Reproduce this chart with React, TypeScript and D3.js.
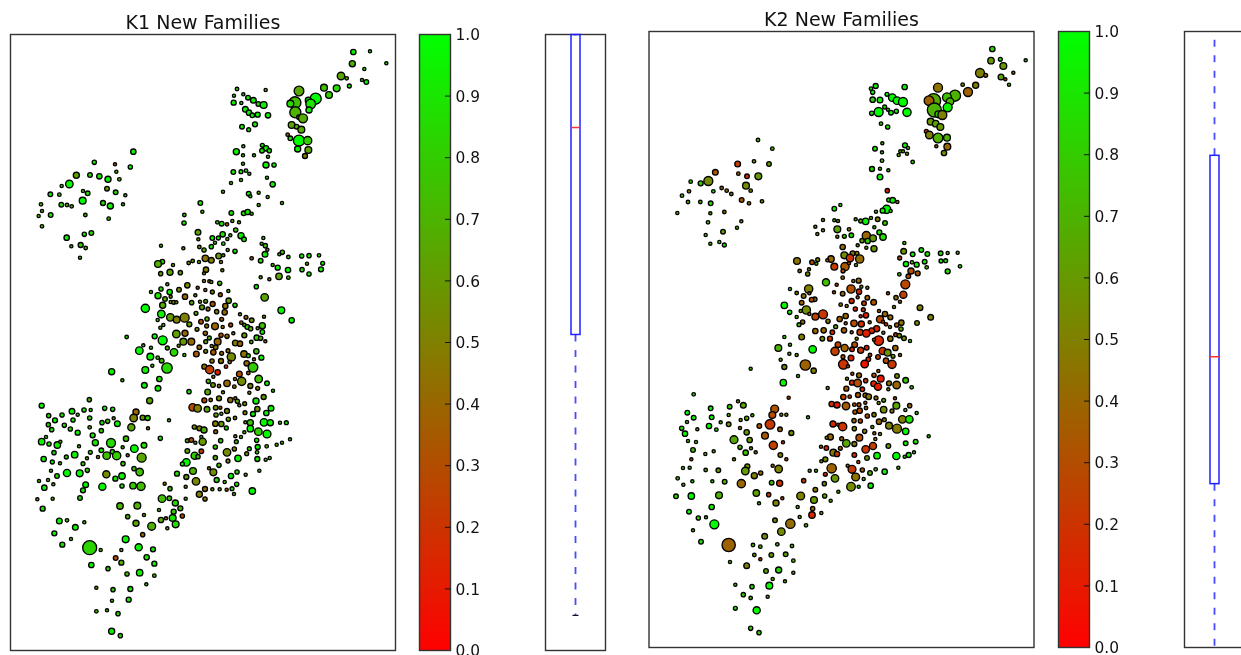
import React from "react";
import * as d3 from "d3";

type P = [number, number, number, number];

const colorTicks = [0, 0.1, 0.2, 0.3, 0.4, 0.5, 0.6, 0.7, 0.8, 0.9, 1.0];
const k1Box = { low: 0.057, q1: 0.513, median: 0.849, q3: 1.0, high: 1.0 };
const k2Box = { low: 0.0, q1: 0.266, median: 0.472, q3: 0.799, high: 1.0 };

// [map x, map y, marker size, share of new families]
const k1North: P[] = [
[1060,66,14,.95],[1110,64,8,.9],[1159,100,8,.85],[1057,101,16,.7],[1093,117,8,.8],[1023,138,20,.65],[1040,145,9,.7],[1086,150,8,.7],[1099,156,12,.95],[1048,168,10,.95],[972,173,18,.75],[1010,175,18,.85],[987,195,18,.8],[897,183,26,.65],[947,206,30,1],[885,218,32,.75],[871,221,18,.85],[925,211,16,.95],[932,222,26,.9],[927,240,16,.95],[886,247,30,.7],[897,262,12,.5],[909,265,24,.68],[875,285,18,.65],[890,290,12,.7],[904,299,18,.68],[863,314,9,.35],[871,325,12,.9],[897,332,30,1],[923,332,22,.8],[893,357,16,.95],[925,360,18,.65],[915,378,13,.5],
[711,177,9,.8],[797,180,8,.7],[730,193,8,.8],[702,197,8,.8],[744,203,12,.9],[760,211,15,.9],[775,222,12,.85],[791,225,18,.95],[701,218,13,.95],[724,219,8,.8],[736,238,15,.95],[747,248,14,.95],[757,256,12,.95],[773,254,13,.95],[804,256,14,.95],[765,283,13,.9],[726,290,12,.9],[746,299,10,.9],[730,349,8,.8],[787,346,10,.9],[798,355,14,.95],[786,362,12,.9],[808,362,11,.9],[709,365,16,.95],[729,376,8,.8],[762,376,8,.8],[804,380,8,.8],[729,401,8,.75],[798,405,16,.95],[822,405,11,.95],[700,426,12,.9],[723,425,10,.9],[738,422,9,.85],[748,431,8,.7],[801,443,8,.8],[723,450,8,.75],[693,459,8,.75],[818,463,14,.95],[669,485,8,.7],[776,488,8,.7],[746,491,12,.95],[751,499,8,.8],[803,501,8,.75],[601,519,12,.9],[776,525,8,.75],[846,519,8,.75],[607,545,8,.75],[694,549,12,.9],[731,550,12,.9],[743,546,14,.9],[755,551,8,.8],[553,555,9,.75],[652,577,9,.8],[665,581,12,.9],[681,583,9,.35],[697,573,8,.7],[717,577,8,.7],[552,579,11,.9],[594,607,15,.65],[668,613,14,.9],[707,600,11,.8],[723,617,16,.95],[691,616,8,.7],[637,624,12,.9],[655,624,10,.9],[790,624,8,.75],[595,628,8,.6],[732,628,12,.95],[682,627,8,.65],
[400,365,14,.95],[283,397,11,.9],[345,403,8,.35],[391,411,11,.95],[349,425,8,.7],[229,436,16,.65],[270,435,12,.85],[298,439,14,.9],[324,448,16,.95],[358,448,9,.75],[185,468,8,.75],[208,462,20,.98],[321,476,12,.6],[249,483,8,.7],[263,490,12,.85],[347,487,12,.85],[151,493,12,.9],[178,494,9,.8],[376,496,8,.75],[123,523,9,.75],[248,512,18,.98],[184,524,12,.85],[201,525,9,.75],[215,529,9,.7],[309,519,13,.85],[331,528,16,.95],[369,523,8,.75],[126,543,8,.7],[152,555,12,.9],[116,558,8,.7],[256,555,9,.75],[326,566,9,.75],[126,589,9,.75],[253,613,11,.9],[274,609,12,.85],[200,623,14,.95],
];
const k1Central: P[] = [
[214,49,8,.75],[242,45,13,.8],[257,54,9,.75],[240,83,8,.7],[483,47,8,.7],[550,55,8,.6],[598,51,9,.6],[634,50,11,.9],[612,60,11,.7],[645,38,8,.8],[683,60,8,.6],[670,41,9,.9],[785,41,8,.7],[796,47,11,.8],[802,59,8,.6],[705,64,11,.9],[795,73,15,.95],[847,67,11,.75],[838,73,8,.7],[865,81,9,.75],[905,78,11,.9],[927,77,11,.9],[957,76,9,.75],[968,100,10,.95],[921,101,8,.7],[906,119,11,.9],[963,118,13,.95],[927,132,11,.9],[864,120,14,.95],[833,113,13,.95],[818,105,8,.65],[837,139,17,.65],[865,143,9,.75],[782,142,8,.7],[808,148,8,.5],[782,92,12,.9],[755,85,9,.35],[616,85,17,.45],[634,91,15,.5],[656,78,15,.6],[670,76,8,.6],[663,96,8,.5],[597,96,8,.7],[578,93,9,.6],[566,99,9,.6],[487,95,12,.85],[474,102,18,.7],[519,105,8,.6],[618,119,14,.5],[612,130,8,.5],[667,121,8,.5],[510,127,16,.65],[541,128,11,.65],[482,131,11,.6],[612,153,8,.5],[628,154,8,.45],[634,156,8,.55],[659,160,11,.75],[502,163,8,.7],[562,166,14,.55],[593,173,8,.3],[616,180,8,.4],[483,177,11,.85],[453,186,8,.75],[537,179,12,.55],[509,186,14,.95],[637,186,10,.5],[685,183,8,.7],[474,197,16,.9],[555,200,14,.4],[586,196,8,.55],[661,194,10,.35],[769,170,11,.95],[794,202,20,.65],[495,207,12,.7],[512,200,8,.5],[512,216,8,.6],[521,217,10,.5],[529,217,8,.5],[575,218,11,.65],[600,215,8,.6],[617,214,10,.6],[638,222,13,.3],[686,212,14,.65],[705,226,11,.85],[676,228,14,.45],[488,226,16,.7],[436,235,22,1],[606,232,13,.65],[624,237,10,.4],[588,250,10,.65],[650,245,11,.5],[674,247,14,.4],[720,253,8,.6],[844,241,18,.98],[484,252,20,.95],[511,262,20,.6],[530,269,18,.5],[554,263,24,.5],[473,270,8,.8],[738,262,10,.4],[755,271,12,.55],[792,260,8,.6],[621,267,11,.7],[665,268,10,.35],[603,275,12,.3],[724,278,9,.4],[875,271,14,.95],[568,283,13,.6],[692,285,10,.25],[620,288,10,.45],[645,289,18,.4],[668,291,8,.45],[490,285,8,.75],[481,293,8,.7],[733,285,9,.65],[742,291,12,.85],[787,287,16,.75],[752,296,11,.7],[773,295,8,.6],[591,298,10,.5],[787,306,12,.95],[616,310,11,.4],[555,310,16,.4],[529,312,20,.62],[380,321,9,.8],[464,319,13,.98],[700,310,8,.55],[663,316,11,.3],[681,319,11,.4],[733,316,13,.6],[628,324,10,.75],[770,323,14,.8],[782,325,11,.7],[796,334,8,.45],[488,331,24,1],[550,335,18,.6],[574,335,18,.42],[617,335,10,.65],[653,335,18,.4],[706,339,15,.5],[720,341,14,.38],[754,336,9,.75],[536,347,8,.6],[430,346,8,.75],[635,348,8,.6],[647,352,12,.45],[598,352,12,.4],[453,353,8,.75],[418,362,20,.98],[502,354,10,.75],[522,367,20,.85],[617,364,10,.55],[640,367,14,.35],[684,362,10,.4],[665,370,10,.4],[769,364,14,.75],[553,375,8,.75],[589,372,15,.35],[732,372,17,.45],[745,377,10,.8],[694,381,22,.55],[451,380,18,.95],[473,383,9,.8],[485,392,12,.75],[784,383,13,.95],[762,388,8,.4],[636,393,11,.45],[663,393,13,.45],[689,396,9,.4],[501,414,28,.85],[457,407,8,.75],[613,410,13,.4],[629,419,22,.25],[740,400,14,.4],[759,412,26,.8],[678,410,9,.15],[653,427,14,.12],[745,429,9,.4],[436,420,18,.95],[335,425,16,.95],[367,451,8,.75],[478,447,14,.9],[718,432,15,.3],[640,440,8,.5],[705,447,8,.45],[776,447,20,.75],[725,454,22,.55],[625,454,11,.75],[681,460,17,.4],[801,460,12,.95],[433,466,15,.95],[639,465,12,.6],[657,468,9,.4],[703,470,9,.45],[751,468,13,.5],[474,475,15,.95],[773,475,10,.5],
];
const k1South: P[] = [
[567,5,11,.95],[623,6,15,.65],[669,7,8,.5],[748,8,8,.55],[819,2,8,.8],[449,32,16,.65],[268,29,11,.7],[791,21,13,.6],[657,25,13,.55],[613,31,13,.25],[632,30,9,.45],[691,30,14,.4],[706,25,8,.5],[712,34,11,.65],[768,33,16,.95],[578,52,20,.3],[593,55,20,.5],[621,58,15,.65],[647,53,12,.6],[661,53,8,.25],[681,63,13,.55],[734,41,10,.55],[718,46,8,.5],[813,55,15,.98],[772,57,14,.55],[125,47,13,.95],[216,64,15,.95],[252,60,11,.9],[272,60,8,.75],[314,55,11,.95],[338,58,11,.9],[146,77,11,.85],[186,75,11,.85],[233,74,8,.8],[165,91,13,.95],[219,90,11,.9],[269,84,11,.85],[408,66,16,.4],[401,84,20,.5],[428,83,13,.6],[443,84,13,.85],[341,85,8,.5],[323,94,11,.75],[306,98,11,.9],[352,101,15,.95],[145,104,11,.8],[193,106,11,.8],[155,119,11,.9],[211,117,11,.8],[269,112,9,.7],[304,122,11,.85],[233,128,13,.95],[278,136,13,.9],[394,112,19,.65],[444,115,8,.4],[507,91,8,.75],[664,71,8,.65],[648,75,11,.65],[735,68,10,.5],[759,72,13,.95],[799,69,14,.95],[705,84,9,.5],[685,88,11,.65],[646,101,14,.5],[664,102,14,.6],[736,97,8,.7],[751,98,16,.8],[792,97,20,.98],[811,98,16,.95],[840,98,8,.75],[859,98,10,.9],[583,111,11,.55],[598,115,13,.5],[612,120,16,.7],[679,114,10,.9],[647,125,10,.4],[751,116,17,.98],[775,125,20,.8],[801,132,21,.98],[733,127,8,.7],[706,139,8,.5],[723,141,8,.7],[138,141,8,.75],[378,146,14,.75],[481,145,11,.9],[125,155,17,.95],[147,162,11,.9],[172,165,17,.95],[181,155,8,.6],[333,159,24,.85],[286,158,16,.9],[237,169,8,.75],[432,166,15,.9],[403,176,20,.98],[368,172,8,.7],[304,181,12,.9],[162,188,11,.85],[337,185,11,.85],[271,187,10,.8],[224,194,17,.95],[320,197,20,.75],[350,197,22,.8],[425,203,24,.65],[294,201,8,.5],[383,196,8,.35],[199,201,10,.8],[261,205,8,.6],[131,207,14,.9],[157,216,10,.95],[180,220,8,.7],[249,221,10,.85],[369,221,11,.8],
[562,152,10,.6],[574,150,12,.3],[586,158,8,.65],[604,141,8,.75],[608,155,19,.6],[662,152,11,.8],[709,155,10,.75],[770,151,11,.9],[800,169,9,.7],[830,164,8,.75],[846,158,8,.7],[870,148,8,.7],[646,171,11,.8],[703,177,11,.5],[773,171,13,.95],[562,183,12,.65],[604,184,12,.2],[681,187,20,.55],[748,176,10,.85],[771,187,9,.8],[740,191,10,.6],[584,197,19,.8],[594,200,11,.7],[646,203,11,.7],[714,205,17,.95],[772,207,13,.9],[797,209,8,.75],[809,204,8,.7],[559,217,20,.98],[547,222,10,.95],[684,213,10,.5],[657,226,11,.75],
[153,242,8,.7],[262,241,11,.8],[201,249,19,.98],[239,250,18,.98],[402,236,11,.75],[419,246,20,.75],[171,258,12,.85],[319,253,19,.55],[366,258,17,.95],[346,266,13,.9],[627,235,8,.45],[640,247,18,.55],[579,243,18,.7],[531,251,13,.85],[711,246,11,.85],[693,258,14,.95],[778,242,8,.75],[737,254,8,.7],[559,261,13,.6],[650,270,13,.9],[674,276,8,.7],[117,273,8,.7],[144,270,8,.7],[160,283,8,.75],[133,293,14,.95],[257,284,15,.95],[307,290,19,.98],[366,288,11,.85],[399,287,17,.8],[423,289,22,.75],[588,274,20,.52],[494,281,8,.5],[710,283,11,.85],[557,290,8,.6],[249,301,13,.9],[510,296,11,.75],[615,297,13,.45],[637,298,8,.65],[659,298,8,.7],[680,299,8,.4],[696,296,10,.85],[757,303,17,.98],[702,312,8,.6],[598,313,16,.5],[615,327,11,.45],[240,324,12,.85],[112,328,8,.7],[158,326,8,.7],[486,326,20,.75],[508,325,12,.8],[557,326,8,.7],[526,339,16,.85],[360,348,17,.7],[412,347,18,.7],[128,356,13,.85],[541,355,13,.7],[477,360,8,.7],[521,365,13,.8],[432,375,8,.65],[383,380,11,.75],[547,378,11,.3],[518,384,18,.9],[498,385,8,.4],[483,390,14,.65],[178,393,15,.95],[201,391,9,.75],[253,397,8,.75],[408,400,16,.65],[455,409,21,.7],[527,403,18,.85],[226,412,15,.95],[502,415,8,.7],[163,430,13,.95],[428,434,11,.4],[213,447,8,.75],[377,448,18,.98],[187,464,13,.9],[269,473,38,.83],[416,472,19,.95],[459,478,13,.9],[302,480,8,.7],[364,480,8,.7],[347,504,12,.3],[440,502,14,.9],[364,518,13,.7],[463,521,13,.95],[274,525,14,.95],[324,536,11,.8],[381,552,11,.75],[419,548,17,.95],[463,557,9,.75],[439,583,8,.75],[289,593,8,.6],[339,599,11,.8],[391,597,13,.95],[336,632,8,.7],[386,629,13,.9],[289,664,9,.75],[321,661,8,.7],[354,671,11,.85],[335,724,16,.95],[361,737,11,.8],
];

const k2North: P[] = [
[1027,57,14,.85],[1051,88,10,.85],[1023,92,17,.6],[1127,91,8,.8],[1060,108,18,.6],[990,129,24,.5],[1007,136,10,.4],[1090,128,8,.35],[1053,141,15,.65],[1066,148,8,.15],[1077,164,8,.75],[938,164,9,.55],[977,166,16,.5],[954,186,24,.38],[864,173,24,.45],[915,197,30,.7],[851,212,38,.65],[837,212,26,.38],[891,202,24,.75],[900,215,20,.7],[853,240,38,.7],[893,232,24,.95],[865,253,18,.75],[877,255,24,.5],[842,275,18,.6],[857,281,17,.65],[871,291,18,.6],[829,304,10,.2],[838,315,20,.5],[864,324,26,.7],[891,323,18,.7],[859,349,8,.35],[892,350,18,.4],[882,369,14,.55],
[764,171,14,.95],[677,168,13,.95],[663,176,9,.85],[668,187,11,.95],[711,193,10,.95],[727,203,20,.98],[668,209,14,.85],[690,210,15,.95],[741,212,20,.98],[759,216,24,1],[704,231,10,.9],[714,239,8,.75],[665,250,11,.9],[686,246,24,1],[723,248,12,.95],[739,244,11,.9],[771,247,22,1],[693,281,9,.75],[713,291,11,.9],[697,340,8,.7],[765,346,13,.95],[774,354,8,.7],[675,356,12,.9],[696,367,8,.75],[751,364,8,.7],[759,364,8,.65],[746,375,8,.7],[771,371,8,.7],[696,392,9,.75],[788,396,9,.8],[666,417,13,.85],[690,416,8,.7],[715,421,8,.7],[690,441,15,.95],[712,482,11,.1],[716,510,10,.9],[728,511,15,.95],[742,516,8,.4],[710,538,22,1],[698,542,13,.95],[722,543,8,.75],[678,545,8,.75],[553,536,12,.95],[571,525,8,.75],[663,564,8,.7],[683,568,12,.5],[617,568,8,.7],[632,573,10,.75],[647,574,17,.95],[519,570,8,.45],[553,571,8,.75],[564,573,8,.45],[705,579,12,.8],[496,590,8,.5],[597,598,9,.45],[673,592,8,.7],[688,607,13,.9],[562,598,18,.65],[519,601,8,.6],[604,616,12,.9],[583,619,10,.8],[502,612,8,.5],[562,620,8,.45],[649,617,22,.4],[669,625,18,.6],[699,621,17,.85],
[324,330,9,.75],[367,356,9,.7],[312,394,9,.55],[263,402,15,.25],[357,402,12,.6],[196,427,15,.35],[265,431,9,.4],[291,439,12,.2],[325,439,18,.6],[122,455,9,.75],[175,453,24,.55],[152,460,13,.8],[215,474,9,.4],[288,467,18,.55],[230,482,9,.45],[117,484,9,.45],[190,484,9,.85],[302,482,9,.5],[244,492,9,.45],[96,497,9,.7],[275,510,12,.35],[114,516,9,.7],[151,516,9,.7],[182,520,12,.85],[297,520,9,.4],[336,514,9,.5],[82,549,8,.75],[181,550,8,.65],[223,546,9,.45],[174,577,9,.75],[274,574,8,.7],[261,593,8,.7],[219,605,12,.6],[167,615,8,.75],
];
const k2Central: P[] = [
[181,41,8,.7],[208,36,8,.8],[223,45,10,.9],[636,32,11,.6],[653,33,14,.8],[578,51,14,.42],[623,46,8,.55],[649,53,8,.6],[672,56,16,.6],[763,39,8,.75],[761,64,15,.6],[788,73,12,.95],[814,60,12,.9],[832,72,12,.9],[872,70,12,.9],[893,69,8,.7],[923,68,8,.7],[749,84,10,.3],[608,70,13,.45],[621,70,10,.5],[583,76,18,.55],[600,84,20,.2],[629,87,22,.42],[543,87,17,.4],[532,91,8,.4],[441,93,18,.45],[486,97,12,.3],[503,89,10,.55],[499,101,8,.7],[473,132,11,.55],[477,118,8,.55],[768,102,14,.98],[786,97,9,.75],[800,104,13,.95],[824,95,12,.9],[873,93,10,.95],[887,92,10,.95],[830,112,9,.7],[930,109,9,.85],[553,110,18,.25],[585,110,22,.35],[597,100,8,.3],[618,105,8,.6],[579,123,10,.3],[449,123,9,.4],[783,123,16,.3],[803,130,13,.35],[893,124,13,.85],[748,133,9,.75],[775,139,12,.28],[578,143,9,.4],[610,153,8,.45],[626,152,13,.4],[528,157,19,.75],[766,163,24,.28],[560,164,8,.25],[652,173,8,.45],[634,170,8,.6],[420,177,8,.75],[476,177,22,.5],[603,177,22,.3],[627,185,14,.15],[552,187,8,.35],[578,191,12,.4],[714,190,8,.3],[440,189,9,.5],[478,190,8,.3],[760,194,19,.25],[461,198,12,.45],[738,203,11,.45],[652,203,12,.4],[623,202,8,.35],[494,208,12,.45],[485,209,12,.3],[605,213,13,.18],[671,217,15,.35],[750,215,8,.4],[455,218,12,.4],[642,220,12,.25],[403,226,17,.98],[572,224,9,.45],[590,228,8,.45],[616,237,11,.15],[732,231,8,.5],[640,239,10,.2],[810,233,15,.5],[469,240,22,.55],[687,243,8,.35],[452,243,8,.6],[419,247,11,.95],[519,253,24,.22],[648,256,14,.12],[705,252,14,.4],[496,260,18,.25],[478,252,8,.3],[440,261,8,.65],[587,258,14,.4],[569,267,14,.38],[632,259,8,.2],[721,262,13,.4],[842,262,15,.5],[690,268,19,.28],[659,277,8,.4],[534,274,11,.5],[458,276,11,.4],[447,284,10,.75],[699,275,8,.3],[587,280,8,.35],[612,280,17,.3],[634,282,16,.18],[754,278,14,.45],[801,279,12,.55],[708,283,9,.15],[740,285,11,.35],[720,291,8,.5],[557,290,10,.7],[753,297,11,.65],[680,296,16,.15],[496,303,14,.4],[521,301,14,.42],[582,301,14,.35],[665,302,15,.15],[547,307,12,.15],[605,307,8,.4],[630,307,16,.2],[649,310,20,.12],[700,308,8,.55],[737,314,10,.15],[748,317,11,.6],[403,321,8,.8],[455,321,15,.5],[517,326,12,.55],[540,326,13,.2],[620,326,8,.55],[686,332,26,.15],[721,326,14,.45],[762,325,12,.55],[780,333,8,.8],[672,329,8,.3],[420,344,8,.8],[385,354,18,.7],[488,358,20,.98],[564,344,15,.25],[614,344,15,.3],[584,354,19,.38],[606,358,12,.15],[632,361,16,.2],[650,353,12,.1],[555,364,22,.25],[698,363,19,.2],[736,354,14,.4],[713,368,18,.58],[418,371,8,.7],[440,375,8,.55],[660,375,9,.25],[729,379,10,.6],[750,375,8,.35],[392,389,8,.65],[579,380,10,.3],[603,384,15,.12],[655,388,12,.15],[684,381,12,.25],[708,392,14,.3],[466,405,28,.38],[403,411,13,.55],[580,403,26,.2],[644,402,20,.08],[594,409,8,.3],[726,403,22,.22],[491,422,14,.5],[302,416,8,.75],[685,423,8,.4],[607,431,8,.35],[627,436,13,.4],[672,436,11,.3],[741,438,12,.55],[444,438,8,.75],[692,446,18,.1],[591,446,8,.5],[767,451,15,.75],[606,458,13,.15],[647,452,11,.25],[623,459,20,.3],[671,461,15,.15],[400,458,17,.98],[717,460,13,.45],[740,465,20,.4],[684,470,19,.1],[785,472,9,.85],[589,476,13,.35],[533,474,8,.65],[715,478,8,.5],[637,478,12,.15],
];
const k2South: P[] = [
[131,13,9,.85],[416,23,8,.3],[264,34,8,.6],[280,46,15,.65],[182,55,12,.95],[239,50,12,.8],[374,57,21,.32],[112,68,12,.98],[367,75,18,.3],[236,75,8,.7],[394,74,8,.55],[409,74,8,.5],[131,83,12,.95],[185,82,12,.98],[307,76,8,.7],[290,85,11,.7],[272,90,8,.55],[212,97,8,.7],[111,96,8,.7],[236,103,12,.6],[177,108,14,.98],[328,108,12,.35],[360,103,26,.22],[270,114,8,.5],[95,115,11,.85],[199,119,9,.8],[142,118,8,.7],[390,118,12,.4],[290,127,14,.6],[424,129,13,.55],[105,131,14,.98],[345,137,18,.35],[252,149,21,.65],[299,150,14,.6],[114,153,8,.7],[138,156,8,.7],[399,157,8,.2],[370,166,22,.25],[270,172,11,.7],[129,180,12,.75],[303,175,8,.55],[191,184,8,.7],[287,188,14,.75],[317,187,8,.35],[166,192,8,.7],[391,195,12,.5],[124,208,8,.3],[252,208,8,.6],[409,208,8,.3],[99,234,8,.7],[119,233,8,.7],[292,229,13,.55],[368,227,8,.45],[167,240,9,.7],[205,241,12,.6],[286,243,20,.62],[386,237,20,.5],[332,249,11,.35],[313,257,16,.5],[83,265,9,.7],[127,274,8,.8],[187,274,8,.8],[224,275,12,.7],[274,281,22,.4],[365,278,12,.75],[389,280,16,.18],[100,284,8,.7],[78,319,12,.85],[124,318,17,.98],[207,316,18,.7],[319,309,17,.65],[356,314,11,.25],[397,325,8,.3],[327,340,8,.7],[378,339,16,.5],[185,351,14,.9],[117,365,12,.98],[145,384,11,.8],[168,382,8,.7],[193,403,24,1],[129,421,8,.7],[153,455,12,.9],[236,465,36,.38],[309,465,9,.7],[331,470,9,.65],[382,463,9,.7],[426,468,9,.75],[313,495,9,.6],[364,495,12,.6],[407,493,12,.65],[331,508,8,.25],[240,516,8,.7],[430,512,9,.75],[290,527,15,.5],[348,543,12,.65],[386,540,16,.85],[430,548,8,.7],[368,567,8,.65],[405,574,8,.7],[256,584,8,.7],[306,590,11,.85],[358,587,18,.98],[280,614,11,.8],[302,624,9,.7],[353,620,8,.7],[256,655,10,.9],[320,661,19,.98],[302,715,11,.8],[327,728,11,.85],
[474,82,8,.75],[545,42,14,.2],[561,45,16,.1],[580,21,14,.25],[599,20,9,.2],[624,15,13,.35],[646,16,12,.4],[656,20,15,.5],[678,24,10,.4],[735,25,8,.3],[701,31,10,.65],[686,39,8,.55],[739,47,18,.65],[779,47,11,.4],[588,48,20,.35],[613,44,9,.3],[627,44,10,.3],[646,38,8,.3],[615,66,11,.35],[629,62,14,.3],[648,54,9,.3],[701,59,17,.55],[726,63,10,.4],[766,60,8,.7],[800,69,8,.75],[652,78,11,.3],[672,74,11,.5],[612,92,11,.4],[631,93,11,.25],[549,102,16,.15],[565,104,8,.35],[578,110,22,.2],[687,95,14,.4],[703,89,10,.5],[757,88,20,.5],[778,88,20,.9],[613,116,11,.55],[667,111,8,.6],[717,107,18,.5],[741,116,24,.48],[767,124,17,.98],[644,124,11,.5],[673,130,8,.4],[690,132,8,.6],[541,141,16,.4],[530,143,8,.5],[575,146,10,.4],[628,143,18,.3],[676,147,8,.5],[589,160,20,.65],[613,162,13,.5],[767,160,12,.95],[797,155,12,.9],[836,139,8,.8],[529,174,12,.15],[513,170,8,.4],[571,175,10,.35],[715,168,12,.6],[669,168,19,.25],[647,178,20,.2],[550,188,18,.5],[561,192,14,.2],[613,195,12,.2],[681,197,17,.98],[739,198,19,1],[776,195,13,.98],[764,200,8,.8],[792,187,8,.75],[526,208,13,.55],[514,214,8,.55],[651,204,12,.6],[625,216,8,.25],[479,242,8,.7],[498,242,8,.7],[545,235,25,.38],[593,227,8,.5],[606,238,21,.22],[637,240,11,.35],[677,238,9,.7],[745,233,8,.75],[660,249,12,.7],[704,245,14,.98],[526,253,10,.15],[555,265,20,.6],[617,261,21,.45],[641,267,8,.7],[461,272,11,.25],[523,281,11,.5],[603,290,23,.55],[626,290,8,.8],[662,287,14,.95],[496,299,12,.45],[565,305,8,.65],[452,318,21,.5],[524,318,11,.7],[492,330,18,.6],[542,332,8,.7],[443,351,8,.7],[488,356,11,.4],[486,375,17,.15],[514,369,8,.6],[449,381,8,.7],[375,391,12,.5],[421,401,25,.42],[468,406,9,.7],[394,425,20,.55],[344,439,15,.55],
];

const centralOffset = 600;
const southOffset = 1080;
const stitch = (a: P[], b: P[], c: P[]): P[] => [
  ...a,
  ...b.map((p): P => [p[0], p[1] + centralOffset, p[2], p[3]]),
  ...c.map((p): P => [p[0], p[1] + southOffset, p[2], p[3]]),
];

const colorScale = d3.scaleLinear<string>().domain([0, 1]).range(["#ff0000", "#00ff00"]).interpolate(d3.interpolateRgb);
const sizeScale = d3.scaleLinear().domain([8, 38]).range([1.6, 7]);
const FONT = "'DejaVu Sans', sans-serif";
const INK = "#333";
const H = 616;
const W = 385;

function Panel({ title, points, left, top, xDomain, yDomain, barLeft, boxLeft, boxWidth, box, gid }: any) {
  const x = d3.scaleLinear().domain(xDomain).range([left, left + W]);
  const y = d3.scaleLinear().domain(yDomain).range([top, top + H]);
  const v = d3.scaleLinear().domain([0, 1]).range([top + H, top]);
  const barW = 31;
  const bx = boxLeft + 30;
  const bw = 4.5;
  return (
    <g>
      <text x={left + W / 2} y={top - 6} textAnchor="middle" fontFamily={FONT} fontSize={19} fill="#111">{title}</text>
      <rect x={left} y={top} width={W} height={H} fill="#fff" stroke={INK} strokeWidth={1.4} />
      <g>
        {(points as P[]).map((p, i) => (
          <circle key={i} cx={x(p[0])} cy={y(p[1])} r={sizeScale(p[2])} fill={colorScale(p[3])} stroke="#000" strokeWidth={1.35} />
        ))}
      </g>
      <defs>
        <linearGradient id={gid} x1="0" y1="1" x2="0" y2="0">
          {d3.range(0, 1.01, 0.1).map((t) => (
            <stop key={t} offset={t} stopColor={colorScale(t)} />
          ))}
        </linearGradient>
      </defs>
      <rect x={barLeft} y={top} width={barW} height={H} fill={`url(#${gid})`} stroke={INK} strokeWidth={1.4} />
      {colorTicks.map((t) => (
        <g key={t}>
          {t > 0 && t < 1 && <line x1={barLeft + barW - 5.5} x2={barLeft + barW} y1={v(t)} y2={v(t)} stroke="#111" strokeWidth={1} />}
          <text x={barLeft + barW + 5} y={v(t)} dy="0.37em" fontFamily={FONT} fontSize={15.4} fill="#111">{t.toFixed(1)}</text>
        </g>
      ))}
      <rect x={boxLeft} y={top} width={boxWidth} height={H} fill="#fff" stroke={INK} strokeWidth={1.4} />
      <line x1={bx} x2={bx} y1={v(box.q3)} y2={v(box.high) + 1} stroke="#4a4aff" strokeWidth={1.8} strokeDasharray="7 8.5" />
      <line x1={bx} x2={bx} y1={v(box.q1)} y2={v(box.low)} stroke="#4a4aff" strokeWidth={1.8} strokeDasharray="7 8.5" />
      {box.low > 0 && <line x1={bx - 3} x2={bx + 3} y1={v(box.low)} y2={v(box.low)} stroke="#111" strokeWidth={1.2} />}
      <rect x={bx - bw} y={v(box.q3)} width={bw * 2} height={v(box.q1) - v(box.q3)} fill="none" stroke="#2020ff" strokeWidth={1.5} />
      <line x1={bx - bw} x2={bx + bw} y1={v(box.median)} y2={v(box.median)} stroke="#ff3030" strokeWidth={1.5} />
    </g>
  );
}

export default function App() {
  return (
    <svg width={1241} height={655} style={{ position: "absolute", left: 0, top: 0, background: "#fff", filter: "blur(0.35px)" }}>
      <Panel title="K1 New Families" points={stitch(k1North, k1Central, k1South)} left={10.5} top={34.5} xDomain={[31.5, 1186.5]} yDomain={[13.5, 1861.5]} barLeft={419.5} boxLeft={545.5} boxWidth={60} box={k1Box} gid="cb1" />
      <Panel title="K2 New Families" points={stitch(k2North, k2Central, k2South)} left={649} top={31.5} xDomain={[-3, 1152]} yDomain={[4.5, 1852.5]} barLeft={1058.5} boxLeft={1184.5} boxWidth={60} box={k2Box} gid="cb2" />
    </svg>
  );
}
